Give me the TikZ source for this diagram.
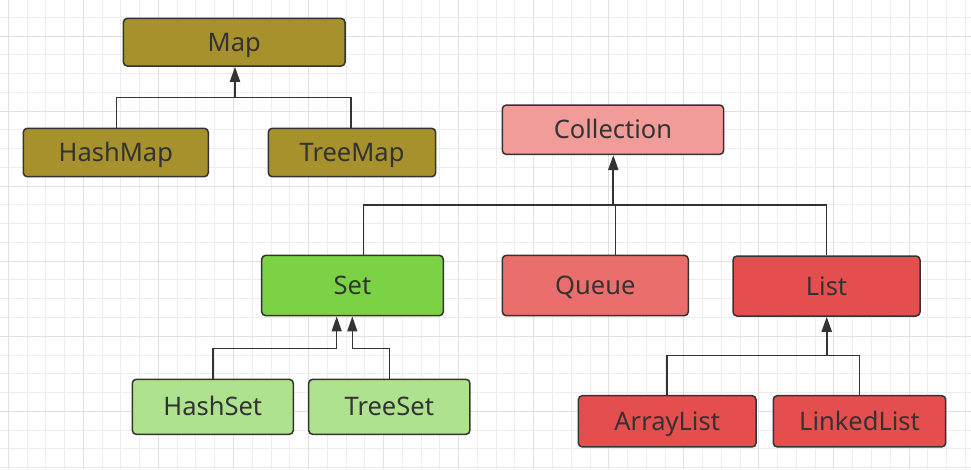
\documentclass[tikz,border=0pt]{standalone}
\usepackage{fontspec}
\setmainfont{Noto Sans}
\usetikzlibrary{arrows.meta}
\definecolor{txt}{HTML}{333333}
\definecolor{edge}{HTML}{333333}
\definecolor{gminor}{HTML}{EDEDED}
\definecolor{gmajor}{HTML}{E1E1E1}
\definecolor{olive}{HTML}{A6912C}
\definecolor{coll}{HTML}{F19C99}
\definecolor{queue}{HTML}{EA6F6C}
\definecolor{lred}{HTML}{E54E4E}
\definecolor{sgreen}{HTML}{7BD244}
\definecolor{lgreen}{HTML}{AEE28F}
\tikzset{
  box/.style={draw=edge, line width=1.5pt, rounded corners=4pt, text=txt,
    font=\fontsize{25.5}{30}\selectfont, inner sep=0pt, text height=18.2pt, text depth=0pt},
  link/.style={draw=edge, line width=1.5pt},
  trunk/.style={draw=edge, line width=2.2pt, -{Triangle[length=15pt,width=10pt]}},
  arr/.style={draw=edge, line width=1.5pt, -{Triangle[length=15pt,width=10pt]}},
}
\begin{document}
\begin{tikzpicture}[x=1pt,y=-1pt]
\useasboundingbox (0,0) rectangle (971,469);
\fill[white] (0,0) rectangle (971,469);
\begin{scope}
\clip (0,0) rectangle (971,469);
\foreach \i in {-1,...,52} { \draw[gminor, line width=1pt] ({8.3+18.765*\i},0) -- ++(0,469); }
\foreach \j in {-2,...,24} { \draw[gminor, line width=1pt] (0,{36+18.765*\j}) -- ++(971,0); }
\foreach \i in {0,4,...,48} { \draw[gmajor, line width=1pt] ({8.3+18.765*\i},0) -- ++(0,469); }
\foreach \j in {0,4,...,20} { \draw[gmajor, line width=1pt] (0,{36+18.765*\j}) -- ++(971,0); }
\end{scope}

% Map family
\node[box, fill=olive, minimum width=221.7pt, minimum height=47.7pt] (Map) at (234.2,42.2) {Map};
\node[box, fill=olive, minimum width=185pt, minimum height=48.4pt] (HashMap) at (115.8,152.5) {HashMap};
\node[box, fill=olive, minimum width=167.4pt, minimum height=48.4pt] (TreeMap) at (352,152.5) {TreeMap};

% Collection family
\node[box, fill=coll, minimum width=221.4pt, minimum height=49.3pt] (Collection) at (613,129.7) {Collection};
\node[box, fill=sgreen, minimum width=181.6pt, minimum height=60.4pt] (Set) at (352.5,285.5) {Set};
\node[box, fill=queue, minimum width=186pt, minimum height=60.4pt] (Queue) at (595.3,285.5) {Queue};
\node[box, fill=lred, minimum width=187pt, minimum height=60pt] (List) at (826.5,286) {List};
\node[box, fill=lgreen, minimum width=161pt, minimum height=55pt] (HashSet) at (212.8,406.8) {HashSet};
\node[box, fill=lgreen, minimum width=161.3pt, minimum height=55pt] (TreeSet) at (389.3,406.8) {TreeSet};
\node[box, fill=lred, minimum width=177.7pt, minimum height=51.3pt] (ArrayList) at (667.2,421.3) {ArrayList};
\node[box, fill=lred, minimum width=172.4pt, minimum height=51.3pt] (LinkedList) at (859.5,421.3) {LinkedList};

% junctions
\coordinate (mapj) at (235,97.7);
\coordinate (colj) at (613.3,205);
\coordinate (hsj) at (336.7,348.3);
\coordinate (tsj) at (352.3,348.3);
\coordinate (lj) at (826.7,355.7);

% Map edges
\draw[link] ([xshift=0.5pt]HashMap.north) |- (mapj);
\draw[link] ([xshift=-1pt]TreeMap.north) |- (mapj);
\draw[trunk] (mapj) -- (mapj |- Map.south);

% Collection edges
\draw[link] ([xshift=10.8pt]Set.north) |- (colj);
\draw[link] ([xshift=20pt]Queue.north) -- ([xshift=20pt]Queue.north |- colj);
\draw[link] (List.north) |- (colj);
\draw[trunk] (colj) -- (colj |- Collection.south);

% Set edges
\draw[arr] (HashSet.north) |- (hsj) -- (hsj |- Set.south);
\draw[arr] (TreeSet.north) |- (tsj) -- (tsj |- Set.south);

% List edges
\draw[link] (ArrayList.north) |- (lj);
\draw[link] (LinkedList.north) |- (lj);
\draw[trunk] (lj) -- (lj |- List.south);
\end{tikzpicture}
\end{document}
